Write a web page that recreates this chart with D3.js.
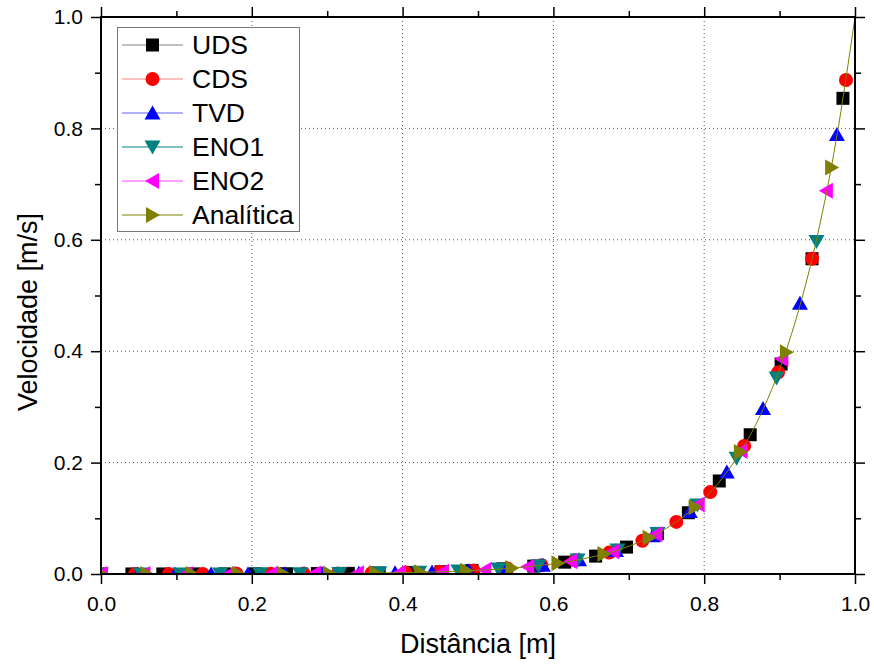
<!DOCTYPE html>
<html>
<head>
<meta charset="utf-8">
<script src="https://cdn.jsdelivr.net/npm/d3@7"></script>
<style>
  body { margin: 0; background: #fff; }
  text { font-family: Arial, "Liberation Sans", sans-serif; fill: #000; }
</style>
</head>
<body>
<div id="chart"></div>
<script>
const svgWidth = 874
const svgHeight = 666

const margin = { top: 17, right: 19, bottom: 92, left: 101 }
const chartWidth = svgWidth - margin.left - margin.right
const chartHeight = svgHeight - margin.top - margin.bottom

// series values
const udsX = [0, 0.041, 0.082, 0.123, 0.164, 0.205, 0.246, 0.287, 0.328, 0.369, 0.410, 0.451, 0.492, 0.533, 0.574, 0.615, 0.656, 0.697, 0.738, 0.779, 0.820, 0.861, 0.902, 0.943, 0.984]
const udsY = [0, 0.0001, 0.0001, 0.0002, 0.0002, 0.0004, 0.0005, 0.0008, 0.0012, 0.0018, 0.0027, 0.0041, 0.0062, 0.0094, 0.0141, 0.0213, 0.0321, 0.0483, 0.0728, 0.110, 0.167, 0.250, 0.377, 0.566, 0.854]

const cdsX = [0, 0.045, 0.090, 0.135, 0.180, 0.225, 0.269, 0.314, 0.359, 0.404, 0.449, 0.494, 0.539, 0.584, 0.629, 0.674, 0.718, 0.763, 0.808, 0.853, 0.898, 0.943, 0.988]
const cdsY = [0, 0.0001, 0.0001, 0.0002, 0.0003, 0.0004, 0.0007, 0.0011, 0.0016, 0.0026, 0.0040, 0.0063, 0.0099, 0.0156, 0.0245, 0.0384, 0.0596, 0.0935, 0.147, 0.230, 0.362, 0.566, 0.887]

const tvdX = [0, 0.049, 0.098, 0.146, 0.195, 0.244, 0.293, 0.342, 0.390, 0.439, 0.488, 0.537, 0.586, 0.634, 0.683, 0.732, 0.781, 0.830, 0.878, 0.927, 0.976]
const tvdY = [0, 0.0001, 0.0001, 0.0002, 0.0003, 0.0005, 0.0009, 0.0014, 0.0022, 0.0037, 0.0060, 0.0097, 0.0159, 0.0257, 0.0420, 0.0686, 0.112, 0.183, 0.297, 0.486, 0.789]

const eno1X = [0, 0.053, 0.105, 0.158, 0.211, 0.264, 0.316, 0.369, 0.422, 0.474, 0.527, 0.580, 0.632, 0.685, 0.738, 0.791, 0.843, 0.896, 0.949]
const eno1Y = [0, 0.0001, 0.0001, 0.0002, 0.0004, 0.0006, 0.0011, 0.0018, 0.0031, 0.0052, 0.0088, 0.0150, 0.0252, 0.0429, 0.0728, 0.124, 0.208, 0.352, 0.597]

const eno2X = [0, 0.057, 0.113, 0.170, 0.226, 0.283, 0.340, 0.396, 0.453, 0.509, 0.566, 0.623, 0.679, 0.736, 0.792, 0.849, 0.903, 0.962]
const eno2Y = [0, 0.0001, 0.0001, 0.0003, 0.0004, 0.0008, 0.0014, 0.0024, 0.0042, 0.0074, 0.0130, 0.0230, 0.0404, 0.0714, 0.125, 0.221, 0.386, 0.688]

const analiticaX = [0, 0.061, 0.121, 0.182, 0.242, 0.303, 0.364, 0.424, 0.485, 0.545, 0.606, 0.667, 0.727, 0.788, 0.848, 0.909, 0.969]
const analiticaY = [0, 0.0001, 0.0002, 0.0003, 0.0005, 0.0009, 0.0017, 0.0032, 0.0058, 0.0106, 0.0194, 0.0358, 0.0652, 0.120, 0.219, 0.398, 0.730]

// the analytic line itself
const curveX = [0, 0.1, 0.2, 0.3, 0.4, 0.5, 0.55, 0.6, 0.65, 0.7, 0.75, 0.8, 0.825, 0.85, 0.875, 0.9, 0.925, 0.95, 0.975, 1.0]
const curveY = [0, 0.0001, 0.0003, 0.0009, 0.0025, 0.0067, 0.0111, 0.0183, 0.0302, 0.0498, 0.0821, 0.1353, 0.1738, 0.2231, 0.2865, 0.3679, 0.4724, 0.6065, 0.7788, 1.0]

const majorTicks = [0, 0.2, 0.4, 0.6, 0.8, 1.0]
const minorTicks = [0.1, 0.3, 0.5, 0.7, 0.9]
const gridTicks = [0.2, 0.4, 0.6, 0.8]

const seriesNames = ["UDS", "CDS", "TVD", "ENO1", "ENO2", "Analítica"]
const seriesColors = ["#000000", "#ff0000", "#0000ff", "#008080", "#ff00ff", "#808000"]
const legendLineColors = ["#808080", "#ff8080", "#6060ff", "#008080", "#ff40ff", "#808000"]
const seriesShapes = ["square", "circle", "up", "down", "left", "right"]
const seriesXs = [udsX, cdsX, tvdX, eno1X, eno2X, analiticaX]
const seriesYs = [udsY, cdsY, tvdY, eno1Y, eno2Y, analiticaY]

const series = seriesNames.map((name, i) => ({
    name,
    color: seriesColors[i],
    lineColor: legendLineColors[i],
    shape: seriesShapes[i],
    points: seriesXs[i].map((x, j) => ({ x, y: seriesYs[i][j] }))
}))
const analyticCurve = curveX.map((x, j) => ({ x, y: curveY[j] }))

const markerPath = shape => {
    if (shape === "square") return "M-6.5,-6.5H6.5V6.5H-6.5Z"
    if (shape === "circle") return "M7,0A7,7 0 1,1 -7,0A7,7 0 1,1 7,0Z"
    if (shape === "up") return "M0,-7.5L8,6.5L-8,6.5Z"
    if (shape === "down") return "M0,7.5L8,-6.5L-8,-6.5Z"
    if (shape === "left") return "M-7.5,0L6.5,-8L6.5,8Z"
    return "M7.5,0L-6.5,-8L-6.5,8Z"
}

const svg = d3.select("#chart").append("svg")
    .attr("width", svgWidth)
    .attr("height", svgHeight)

svg.append("defs").append("clipPath")
    .attr("id", "plotClip")
    .append("rect")
    .attr("width", chartWidth)
    .attr("height", chartHeight)

const chartG = svg.append("g")
    .attr("transform", `translate(${margin.left}, ${margin.top})`)

const x = d3.scaleLinear().domain([0, 1]).range([0, chartWidth])
const y = d3.scaleLinear().domain([0, 1]).range([chartHeight, 0])

// dotted grid
chartG.append("g").selectAll("line")
    .data(gridTicks)
    .enter()
    .append("line")
    .attr("x1", d => x(d)).attr("x2", d => x(d))
    .attr("y1", 0).attr("y2", chartHeight)
    .attr("stroke", "#555").attr("stroke-dasharray", "1,3")

chartG.append("g").selectAll("line")
    .data(gridTicks)
    .enter()
    .append("line")
    .attr("y1", d => y(d)).attr("y2", d => y(d))
    .attr("x1", 0).attr("x2", chartWidth)
    .attr("stroke", "#555").attr("stroke-dasharray", "1,3")

const plotArea = chartG.append("g").attr("clip-path", "url(#plotClip)")
const line = d3.line().x(d => x(d.x)).y(d => y(d.y)).curve(d3.curveMonotoneX)

series.forEach(s => {
    if (s.name === "Analítica") {
        plotArea.append("path")
            .datum(analyticCurve)
            .attr("fill", "none")
            .attr("stroke", s.color)
            .attr("stroke-width", 1)
            .attr("d", line)
    }

    plotArea.append("g").selectAll("path")
        .data(s.points)
        .enter()
        .append("path")
        .attr("transform", d => `translate(${x(d.x)}, ${y(d.y)})`)
        .attr("d", markerPath(s.shape))
        .attr("fill", s.color)
})

// axes
const styleAxis = g => {
    g.select(".domain").remove()
    g.selectAll(".tick line").attr("stroke", "#000").attr("stroke-width", 1.5)
    g.selectAll("text").attr("font-size", 21).attr("font-family", "Arial, 'Liberation Sans', sans-serif")
}

chartG.append("g")
    .attr("transform", `translate(0, ${chartHeight})`)
    .call(d3.axisBottom(x).tickValues(majorTicks).tickSize(10).tickPadding(12).tickFormat(d3.format(".1f")))
    .call(styleAxis)
chartG.append("g")
    .attr("transform", `translate(0, ${chartHeight})`)
    .call(d3.axisBottom(x).tickValues(minorTicks).tickSize(6).tickFormat(""))
    .call(styleAxis)

chartG.append("g")
    .call(d3.axisLeft(y).tickValues(majorTicks).tickSize(10).tickPadding(8).tickFormat(d3.format(".1f")))
    .call(styleAxis)
chartG.append("g")
    .call(d3.axisLeft(y).tickValues(minorTicks).tickSize(6).tickFormat(""))
    .call(styleAxis)

chartG.append("g")
    .attr("transform", `translate(${chartWidth}, 0)`)
    .call(d3.axisRight(y).tickValues(majorTicks).tickSize(10).tickFormat(""))
    .call(styleAxis)
chartG.append("g")
    .attr("transform", `translate(${chartWidth}, 0)`)
    .call(d3.axisRight(y).tickValues(minorTicks).tickSize(6).tickFormat(""))
    .call(styleAxis)

chartG.append("g")
    .call(d3.axisTop(x).tickValues(majorTicks).tickSize(10).tickFormat(""))
    .call(styleAxis)
chartG.append("g")
    .call(d3.axisTop(x).tickValues(minorTicks).tickSize(6).tickFormat(""))
    .call(styleAxis)

chartG.append("rect")
    .attr("width", chartWidth)
    .attr("height", chartHeight)
    .attr("fill", "none")
    .attr("stroke", "#000")
    .attr("stroke-width", 2)

// axis titles
svg.append("text")
    .attr("x", margin.left + chartWidth / 2)
    .attr("y", 653)
    .attr("text-anchor", "middle")
    .attr("font-size", 27)
    .text("Distância [m]")

svg.append("text")
    .attr("transform", "translate(37, 312) rotate(-90)")
    .attr("text-anchor", "middle")
    .attr("font-size", 27)
    .text("Velocidade [m/s]")

// legend
const legendG = svg.append("g")

legendG.append("rect")
    .attr("x", 117.5).attr("y", 27.5)
    .attr("width", 182).attr("height", 204)
    .attr("fill", "#fff")
    .attr("stroke", "#777")

const legendRow = legendG.selectAll("g.row")
    .data(series)
    .enter()
    .append("g")
    .attr("class", "row")
    .attr("transform", (d, i) => `translate(0, ${45 + i * 34})`)

legendRow.append("line")
    .attr("x1", 122).attr("x2", 183)
    .attr("stroke", d => d.lineColor)
    .attr("stroke-width", 1)

legendRow.append("path")
    .attr("transform", "translate(152.5, 0)")
    .attr("d", d => markerPath(d.shape))
    .attr("fill", d => d.color)

legendRow.append("text")
    .attr("x", 192)
    .attr("dy", ".35em")
    .attr("font-size", 26.5)
    .text(d => d.name)
</script>
</body>
</html>
